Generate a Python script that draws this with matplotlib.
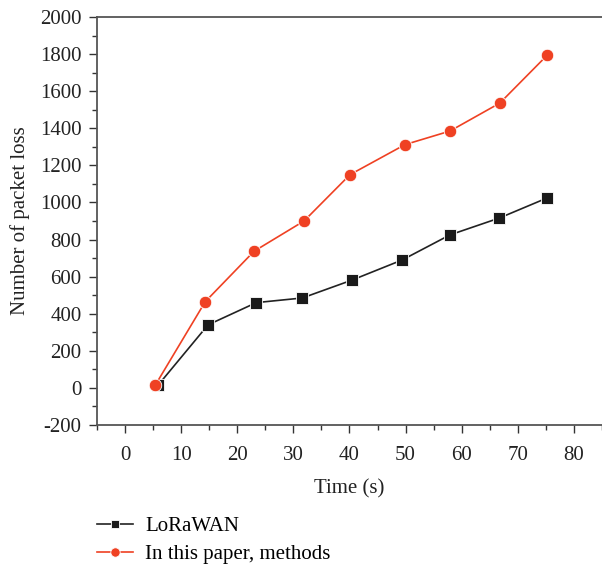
import matplotlib.pyplot as plt
from matplotlib.ticker import MultipleLocator

# Values
time_lora = [5.9, 14.8, 23.4, 31.6, 40.5, 49.4, 57.9, 66.7, 75.2]
loss_lora = [15, 340, 460, 485, 582, 690, 825, 916, 1024]

time_ours = [5.4, 14.3, 23.0, 31.9, 40.1, 49.9, 57.9, 66.8, 75.2]
loss_ours = [15, 465, 737, 900, 1150, 1312, 1385, 1536, 1793]

plt.rcParams['font.family'] = ['Liberation Serif', 'DejaVu Serif']
plt.rcParams['font.size'] = 15
plt.rcParams['axes.unicode_minus'] = False

fig = plt.figure(figsize=(6.02, 5.67), dpi=100)
ax = fig.add_axes([0.161, 0.2504, 0.839, 0.7196])

ax.plot(time_lora, loss_lora, color='#222222', lw=1.2, marker='s', ms=8,
        mfc='#1a1a1a', mec='white', mew=0.6, label='LoRaWAN')
ax.plot(time_ours, loss_ours, color='#ef4123', lw=1.2, marker='o', ms=9,
        mfc='#ef4123', mec='white', mew=0.6, label='In this paper, methods')

ax.set_xlim(-5, 85)
ax.set_ylim(-200, 2000)
ax.xaxis.set_major_locator(MultipleLocator(10))
ax.xaxis.set_minor_locator(MultipleLocator(5))
ax.yaxis.set_major_locator(MultipleLocator(200))
ax.yaxis.set_minor_locator(MultipleLocator(100))
ax.tick_params(which='both', direction='out', colors='#333333', labelcolor='#222222')
ax.tick_params(which='major', length=6, width=1)
ax.tick_params(which='minor', length=3.5, width=1)
ax.tick_params(axis='x', which='major', pad=9)
ax.tick_params(axis='y', which='major', pad=5)
ax.spines['right'].set_visible(False)
for s in ['left', 'top', 'bottom']:
    ax.spines[s].set_color('#555555')
    ax.spines[s].set_linewidth(1.3)

ax.set_xlabel('Time (s)', color='#222222', labelpad=10)
ax.set_ylabel('Number of packet loss', color='#222222', labelpad=7)

fig.legend(loc='upper left', bbox_to_anchor=(0.161, 0.089), frameon=False,
           handlelength=1.73, handletextpad=0.58, labelspacing=0.4,
           markerscale=0.75, borderaxespad=0, borderpad=0)

fig.savefig('out.png', dpi=100)
